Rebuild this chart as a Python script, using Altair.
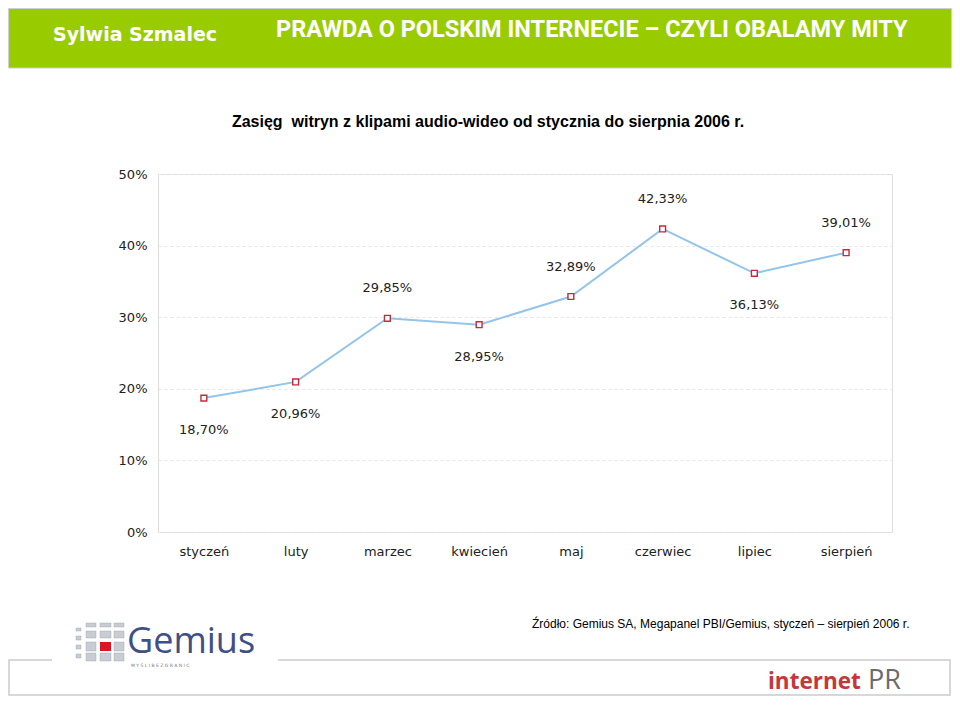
import altair as alt
import pandas as pd

# ---- data ----
months = ["styczeń", "luty", "marzec", "kwiecień", "maj", "czerwiec", "lipiec", "sierpień"]
reach = [18.70, 20.96, 29.85, 28.95, 32.89, 42.33, 36.13, 39.01]
label_side = ["below", "below", "above", "below", "above", "above", "below", "above"]
y_ticks = [0, 10, 20, 30, 40, 50]

header_left = "Sylwia Szmalec"
header_title = "PRAWDA O POLSKIM INTERNECIE – CZYLI OBALAMY MITY"
chart_title = "Zasięg\u00a0 witryn z klipami audio-wideo od stycznia do sierpnia 2006 r."
source_text = "Źródło: Gemius SA, Megapanel PBI/Gemius, styczeń – sierpień 2006 r."

df = pd.DataFrame({
    "month": months,
    "reach": reach,
    "side": label_side,
    "label": [f"{v:.2f}".replace(".", ",") + "%" for v in reach],
})

# ---- layout helpers (page pixel -> plot pixel) ----
OX, OY = 158, 174
W, H = 734, 358


def px(x):
    return x - OX


def py(y):
    return y - OY


x_enc = alt.X("month:N", sort=months, title=None,
              axis=alt.Axis(labelAngle=0, domain=False, ticks=False, grid=False,
                            labelFont="DejaVu Sans", labelFontSize=13, labelColor="#222222",
                            labelPadding=13))
y_enc = alt.Y("reach:Q", title=None, scale=alt.Scale(domain=[0, 50], nice=False),
              axis=alt.Axis(values=y_ticks, labelExpr="datum.value + '%'", domain=False, ticks=False,
                            grid=True, gridColor="#e6e6e6", gridDash=[3, 3], gridWidth=1,
                            labelFont="DejaVu Sans", labelFontSize=13, labelColor="#222222",
                            labelPadding=11))

base = alt.Chart(df)
line = base.mark_line(color="#93c4ea", strokeWidth=2).encode(x=x_enc, y=y_enc)
points = base.mark_point(shape="square", size=34, filled=True, fill="white",
                         stroke="#c8283c", strokeWidth=1.4, opacity=1).encode(x=x_enc, y=y_enc)
lab_above = base.transform_filter(alt.datum.side == "above").mark_text(
    dy=-30, font="DejaVu Sans", fontSize=13, color="#222222", baseline="middle"
).encode(x=x_enc, y=y_enc, text="label:N")
lab_below = base.transform_filter(alt.datum.side == "below").mark_text(
    dy=32, font="DejaVu Sans", fontSize=13, color="#222222", baseline="middle"
).encode(x=x_enc, y=y_enc, text="label:N")

one = pd.DataFrame({"k": [0]})
deco = alt.Chart(one)

header_rect = deco.mark_rect(fill="#99cc00", stroke="#cfcfcf", strokeWidth=1).encode(
    x=alt.value(px(8.5)), x2=alt.value(px(951.5)), y=alt.value(py(8.5)), y2=alt.value(py(68)))
header_name = deco.mark_text(text=header_left, font="DejaVu Sans", fontWeight="bold", fontSize=19,
                             color="white", align="left", baseline="middle").encode(
    x=alt.value(px(53)), y=alt.value(py(35)))
header_t = deco.mark_text(text=header_title, font="Roboto", fontWeight="bold",
                          fontSize=23.5, color="white", align="left", baseline="middle").encode(
    x=alt.value(px(276)), y=alt.value(py(30)))
title_t = deco.mark_text(text=chart_title, font="Liberation Sans", fontWeight="bold", fontSize=16,
                         color="#000000", align="center", baseline="middle").encode(
    x=alt.value(px(488)), y=alt.value(py(122)))
source_t = deco.mark_text(text=source_text, font="Liberation Sans", fontSize=12, color="#000000",
                          align="left", baseline="middle").encode(
    x=alt.value(px(532)), y=alt.value(py(624)))

footer_box = deco.mark_rect(fill="white", fillOpacity=0, stroke="#cccccc", strokeWidth=1.5).encode(
    x=alt.value(px(9)), x2=alt.value(px(950)), y=alt.value(py(660)), y2=alt.value(py(695)))
logo_gap = deco.mark_rect(fill="white").encode(
    x=alt.value(px(52)), x2=alt.value(px(278)), y=alt.value(py(655)), y2=alt.value(py(668)))

# Gemius logo squares (decoration)
sq = pd.DataFrame({
    "x1": [76, 76, 76, 76, 86, 86, 86, 86, 100, 100, 100, 114, 114, 114, 114],
    "x2": [81, 81, 81, 81, 96, 96, 96, 96, 111, 111, 111, 124, 124, 124, 124],
    "y1": [628, 636, 645, 654, 623, 631, 642, 653, 623, 631, 653, 623, 631, 642, 653],
    "y2": [631, 640, 649, 658, 627, 638, 651, 661, 627, 638, 661, 627, 638, 651, 661],
})
sq["x1"] = sq["x1"] - OX
sq["x2"] = sq["x2"] - OX
sq["y1"] = sq["y1"] - OY
sq["y2"] = sq["y2"] - OY
logo_sq = alt.Chart(sq).mark_rect(fill="#c9cdd3", stroke="#9aa0a8", strokeWidth=0.4).encode(
    x=alt.X("x1:Q", scale=None), x2="x2:Q", y=alt.Y("y1:Q", scale=None), y2="y2:Q")
logo_red = deco.mark_rect(fill="#e0141e").encode(
    x=alt.value(px(100)), x2=alt.value(px(111)), y=alt.value(py(642)), y2=alt.value(py(651)))
gemius_t = deco.mark_text(text="Gemius", font="Open Sans", fontSize=36, color="#404f85",
                          align="left", baseline="alphabetic").encode(
    x=alt.value(px(127)), y=alt.value(py(653)))
gemius_tag = deco.mark_text(text="M Y Ś L I    B E Z    G R A N I C", font="DejaVu Sans", fontSize=4.5,
                            color="#7a7a7a", align="left", baseline="middle").encode(
    x=alt.value(px(131)), y=alt.value(py(666)))
ipr1 = deco.mark_text(text="internet", font="Open Sans", fontWeight="bold", fontSize=22.5,
                      color="#c4373b", align="left", baseline="alphabetic").encode(
    x=alt.value(px(768)), y=alt.value(py(689)))
ipr2 = deco.mark_text(text="PR", font="Open Sans", fontSize=27, color="#6b6b6b",
                      align="left", baseline="alphabetic").encode(
    x=alt.value(px(868)), y=alt.value(py(689)))

chart = alt.layer(
    header_rect, header_name, header_t, title_t,
    line, points, lab_above, lab_below,
    source_t, footer_box, logo_gap, logo_sq, logo_red, gemius_t, gemius_tag, ipr1, ipr2,
).properties(
    width=W, height=H,
    autosize=alt.AutoSizeParams(type="none"),
    padding={"left": 150, "top": 166, "right": 944 - 150 - W, "bottom": 689 - 166 - H},
).configure_view(
    fill="#fafaf8", stroke="#e6e6e6", strokeWidth=1.5
).configure(background="white")

chart.save("out.html", embed_options={"renderer": "svg", "actions": False})
